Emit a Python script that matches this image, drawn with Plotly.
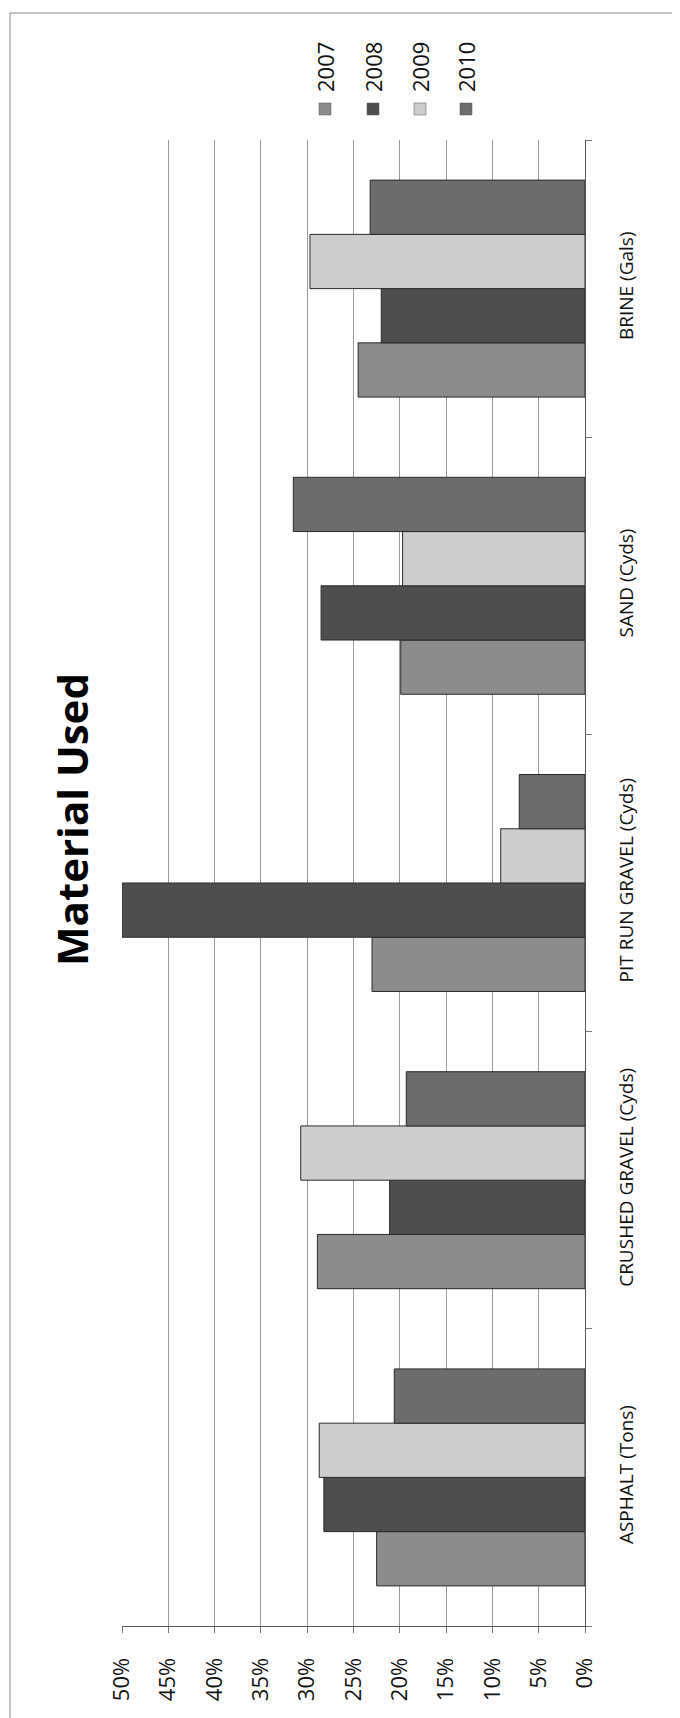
import plotly.graph_objects as go

categories = ["ASPHALT (Tons)", "CRUSHED GRAVEL (Cyds)", "PIT RUN GRAVEL (Cyds)", "SAND (Cyds)", "BRINE (Gals)"]
years = ["2007", "2008", "2009", "2010"]
v2007 = [0.225, 0.289, 0.230, 0.199, 0.245]
v2008 = [0.282, 0.211, 0.500, 0.285, 0.220]
v2009 = [0.287, 0.307, 0.091, 0.197, 0.297]
v2010 = [0.206, 0.193, 0.071, 0.315, 0.232]
x_ticks = [0.0, 0.05, 0.10, 0.15, 0.20, 0.25, 0.30, 0.35, 0.40, 0.45, 0.50]
title_text = "Material Used"

series = [v2007, v2008, v2009, v2010]
colors = ["#8c8c8c", "#4e4e4e", "#cdcdcd", "#6c6c6c"]

W, H = 680, 1718
ML, MR, MT, MB = 114, 103, 132, 100
PW, PH = W - ML - MR, H - MT - MB

def px_x(p):
    return (p - ML) / PW

def px_y(p):
    return (H - MB - p) / PH

fig = go.Figure()
for name, vals, col in zip(years, series, colors):
    fig.add_trace(go.Bar(
        y=categories, x=vals, name=name, orientation="h",
        marker=dict(color=col, line=dict(color="#2a2a2a", width=1)),
        showlegend=False,
    ))

FONT = "Open Sans"

# legend (rotated) built from annotations and swatches
leg_x = [317, 365, 412, 458]
for name, col, lx in zip(years, colors, leg_x):
    fig.add_annotation(
        xref="paper", yref="paper", x=px_x(lx), y=px_y(86),
        text=name, textangle=-90, showarrow=False,
        xanchor="center", yanchor="bottom",
        font=dict(family=FONT, size=22, color="#111"),
    )
    fig.add_shape(
        type="rect", xref="paper", yref="paper",
        x0=px_x(lx - 6), x1=px_x(lx + 6), y0=px_y(107), y1=px_y(95),
        fillcolor=col, line=dict(color="#555", width=0.5),
    )

# rotated title
fig.add_annotation(
    xref="paper", yref="paper", x=px_x(63), y=px_y(812),
    text="<b>" + title_text + "</b>", textangle=-90, showarrow=False,
    xanchor="center", yanchor="middle",
    font=dict(family=FONT, size=42, color="#000"),
)

# outer chart border
fig.add_shape(
    type="rect", xref="paper", yref="paper", layer="below",
    x0=px_x(2), x1=px_x(677), y0=px_y(1715), y1=px_y(5),
    line=dict(color="#888", width=1), fillcolor="rgba(0,0,0,0)",
)

fig.update_layout(
    width=W, height=H,
    margin=dict(l=ML, r=MR, t=MT, b=MB, autoexpand=False),
    paper_bgcolor="white", plot_bgcolor="white",
    barmode="group", bargap=0.27, bargroupgap=0,
    font=dict(family=FONT, color="#111"),
)
fig.update_xaxes(
    range=[0.5, 0], tickvals=x_ticks, tickformat=".0%",
    tickangle=-90, tickfont=dict(size=22),
    showgrid=True, gridcolor="#9a9a9a", gridwidth=1,
    showline=True, linecolor="#555", linewidth=1,
    ticks="outside", ticklen=6, tickcolor="#777",
    ticklabelstandoff=16, zeroline=False, fixedrange=True,
)
fig.update_yaxes(
    categoryorder="array", categoryarray=categories,
    side="right", tickangle=-90, tickfont=dict(size=19),
    showline=True, linecolor="#555", linewidth=1,
    ticks="outside", ticklen=6, tickcolor="#777", tickson="boundaries",
    ticklabelstandoff=24, showgrid=False, fixedrange=True,
)

fig.write_html("out.html")
